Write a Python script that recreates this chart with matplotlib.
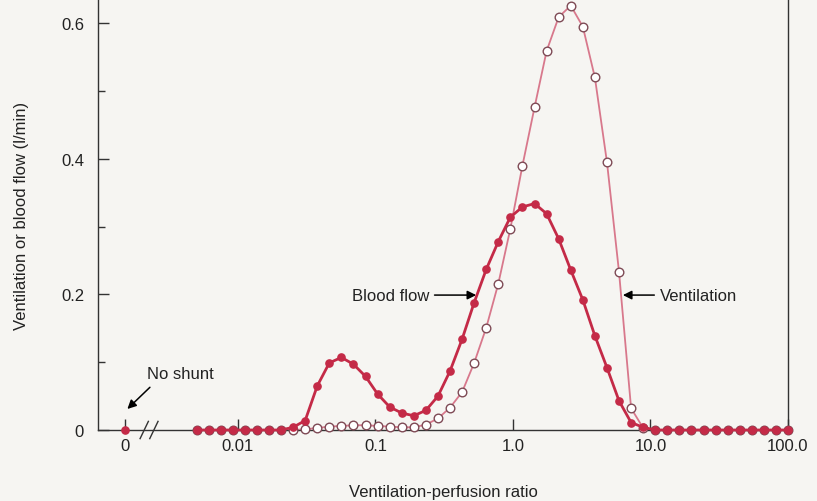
import matplotlib
matplotlib.use("Agg")
import matplotlib.pyplot as plt
from matplotlib.ticker import FixedLocator, NullLocator

plt.rcParams['font.family'] = ['Liberation Sans', 'DejaVu Sans']

# ---- data -------------------------------------------------------------
# ventilation-perfusion ratio of each compartment (log-spaced 0.005 .. 100)
va_q = [0.005, 0.006120, 0.007490, 0.009169, 0.01122, 0.01373, 0.01681, 0.02057,
        0.02518, 0.03083, 0.03773, 0.04618, 0.05653, 0.06919, 0.08469, 0.1037,
        0.1269, 0.1553, 0.1901, 0.2327, 0.2848, 0.3486, 0.4267, 0.5223,
        0.6393, 0.7825, 0.9575, 1.172, 1.435, 1.756, 2.149, 2.631,
        3.220, 3.941, 4.825, 5.905, 7.228, 8.847, 10.83, 13.25,
        16.22, 19.86, 24.30, 29.75, 36.41, 44.57, 54.55, 66.77,
        81.72, 100.0]

blood_flow = [0, 0, 0, 0, 0, 0, 0, 0,
              0.004, 0.014, 0.065, 0.099, 0.107, 0.097, 0.079, 0.053,
              0.034, 0.025, 0.021, 0.029, 0.050, 0.087, 0.134, 0.188,
              0.237, 0.278, 0.314, 0.329, 0.334, 0.319, 0.282, 0.236,
              0.192, 0.139, 0.092, 0.043, 0.011, 0.004, 0, 0,
              0, 0, 0, 0, 0, 0, 0, 0,
              0, 0]

ventilation = [0, 0, 0, 0, 0, 0, 0, 0,
               0, 0.001, 0.003, 0.005, 0.006, 0.007, 0.007, 0.006,
               0.005, 0.004, 0.004, 0.008, 0.017, 0.033, 0.056, 0.099,
               0.151, 0.216, 0.297, 0.390, 0.476, 0.559, 0.609, 0.626,
               0.595, 0.520, 0.395, 0.233, 0.032, 0.003, 0, 0,
               0, 0, 0, 0, 0, 0, 0, 0,
               0, 0]

shunt_pos = 0.0015          # where "0" (shunt) sits on the broken log axis
shunt_blood_flow = 0.0

x_ticks = [shunt_pos, 0.01, 0.1, 1.0, 10.0, 100.0]
x_tick_labels = ['0', '0.01', '0.1', '1.0', '10.0', '100.0']
y_ticks = [0, 0.2, 0.4, 0.6]
y_tick_labels = ['0', '0.2', '0.4', '0.6']
y_minor = [0.1, 0.3, 0.5]

# ---- styling ------------------------------------------------------------
bg = '#f6f5f2'
blood_col = '#c42a47'
vent_line_col = '#d8788c'
vent_edge_col = '#7e4a55'

fig = plt.figure(figsize=(8.17, 5.02), dpi=100, facecolor=bg)
ax = fig.add_axes([98 / 817, 1 - 431 / 502, 690 / 817, 431 / 502])
ax.set_facecolor(bg)

ax.set_xscale('log')
ax.set_xlim(0.00096, 100)
ax.set_ylim(0, 0.6357)

# ventilation (open circles, lighter line)
ax.plot(va_q, ventilation, '-', color=vent_line_col, lw=1.3, zorder=3)
ax.plot(va_q, ventilation, 'o', ms=6.2, mfc='white', mec=vent_edge_col,
        mew=1.0, zorder=4, clip_on=False)

# blood flow (filled dots, darker line)
ax.plot(va_q, blood_flow, '-', color=blood_col, lw=2.0, zorder=5,
        marker='o', ms=5.2, mfc=blood_col, mec=blood_col, clip_on=False)

# shunt point
ax.plot([shunt_pos], [shunt_blood_flow], 'o', ms=5.2, color=blood_col,
        zorder=6, clip_on=False)

# ---- axes ---------------------------------------------------------------
for s in ['top']:
    ax.spines[s].set_visible(False)
for s in ['left', 'bottom', 'right']:
    ax.spines[s].set_color('#333333')
    ax.spines[s].set_linewidth(1.0)

ax.xaxis.set_major_locator(FixedLocator(x_ticks))
ax.set_xticklabels(x_tick_labels)
ax.xaxis.set_minor_locator(NullLocator())
ax.set_yticks(y_ticks)
ax.set_yticklabels(y_tick_labels)
ax.yaxis.set_minor_locator(FixedLocator(y_minor))

ax.tick_params(axis='both', which='major', direction='in', length=8,
               width=1.0, color='#333333', labelsize=12, labelcolor='#222222')
ax.tick_params(axis='x', which='major', pad=6)
ax.tick_params(axis='y', which='major', pad=10)
ax.tick_params(axis='y', which='minor', direction='in', length=5,
               width=1.0, color='#333333')
ax.tick_params(right=False, which='both')

ax.set_xlabel('Ventilation-perfusion ratio', fontsize=12, color='#222222',
              labelpad=22)
ax.set_ylabel('Ventilation or blood flow (l/min)', fontsize=12,
              color='#222222', labelpad=23)

# axis break marks "//"
for dx in (0.0, 0.014):
    ax.plot([0.061 + dx, 0.073 + dx], [-0.02, 0.02], color='#333333',
            lw=1.0, transform=ax.transAxes, clip_on=False, zorder=7)

# ---- annotations ----------------------------------------------------------
arrow_kw = dict(arrowstyle='-|>', color='black', lw=1.1, mutation_scale=13,
                shrinkA=2, shrinkB=0)

ax.annotate('Blood flow', xy=(0.54, 0.199), xytext=(0.245, 0.199),
            ha='right', va='center', fontsize=12, color='#222222',
            arrowprops=arrow_kw)
ax.annotate('Ventilation', xy=(6.3, 0.199), xytext=(11.7, 0.199),
            ha='left', va='center', fontsize=12, color='#222222',
            arrowprops=arrow_kw)
ax.text(0.00218, 0.083, 'No shunt', ha='left', va='center', fontsize=12,
        color='#222222')
ax.annotate('', xy=(0.00157, 0.031), xytext=(0.00229, 0.063),
            arrowprops=dict(arrowstyle='-|>', color='black', lw=1.1,
                            mutation_scale=13, shrinkA=0, shrinkB=0))

fig.savefig('out.png', dpi=100, facecolor=bg)
